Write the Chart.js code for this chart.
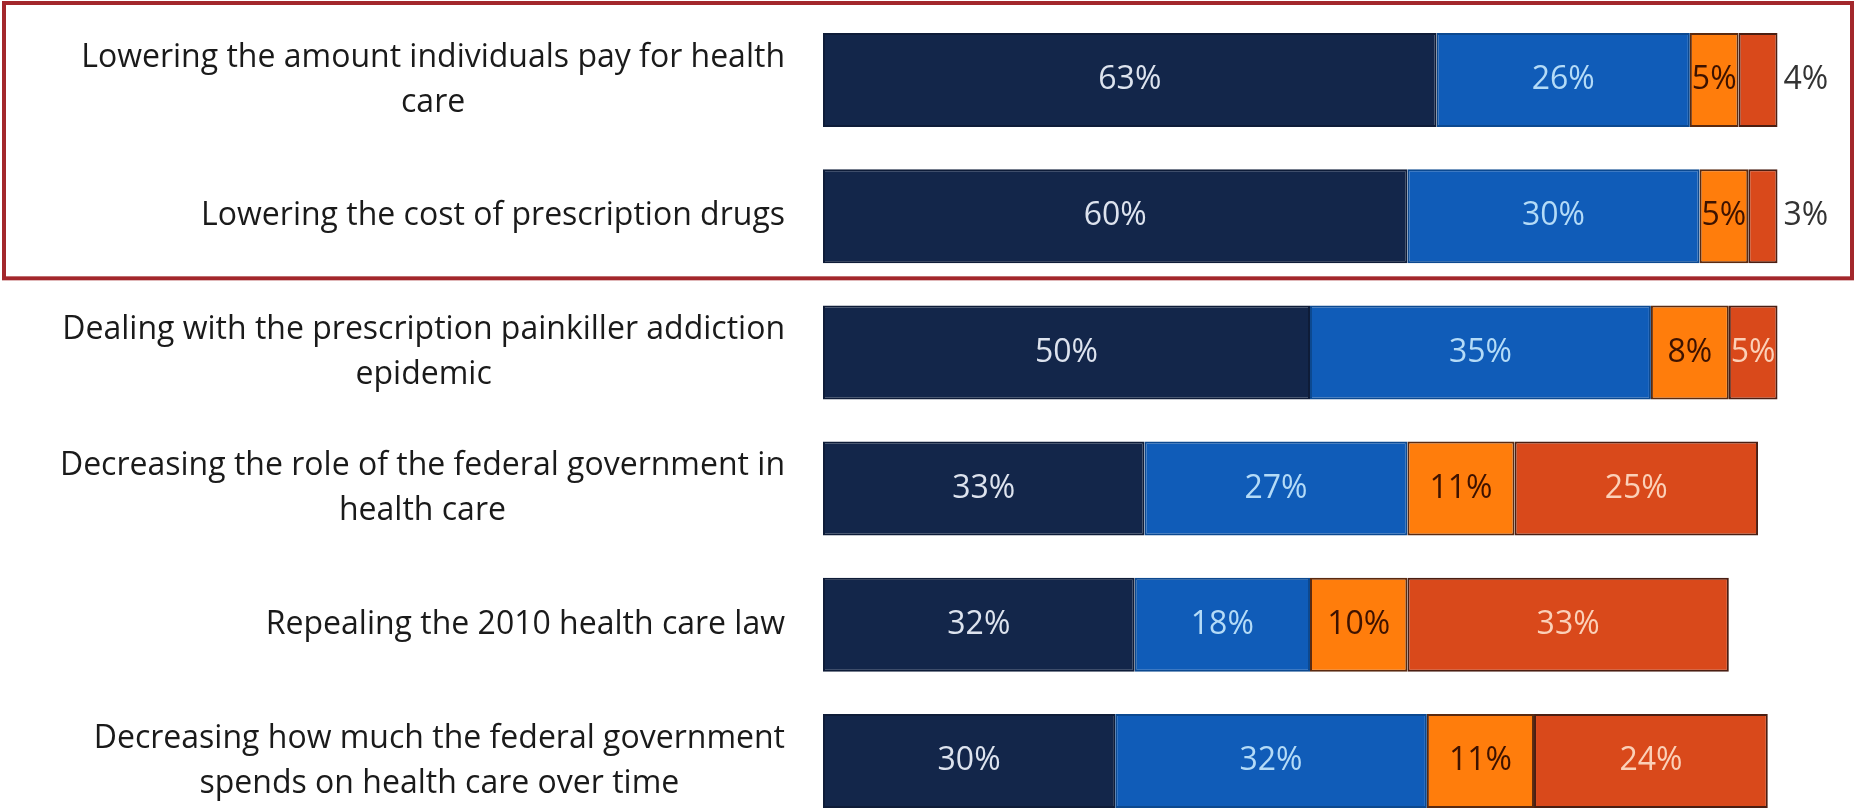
<!DOCTYPE html>
<html>
<head>
<meta charset="utf-8">
<script src="https://cdn.jsdelivr.net/npm/chart.js@4/dist/chart.umd.min.js"></script>
<style>
  html, body { margin: 0; padding: 0; background: #fff; overflow: hidden; }
  #wrap { width: 1856px; height: 830px; position: relative; }
</style>
</head>
<body>
<div id="wrap"><canvas id="prioridades"></canvas></div>
<script>
// categorias (cada una puede ir en varias lineas)
const categorias = [
  ["Lowering the amount individuals pay for health", "care"],
  ["Lowering the cost of prescription drugs"],
  ["Dealing with the prescription painkiller addiction", "epidemic"],
  ["Decreasing the role of the federal government in", "health care"],
  ["Repealing the 2010 health care law"],
  ["Decreasing how much the federal government", "spends on health care over time"]
];

// porcentajes por serie
const serieA = [63, 60, 50, 33, 32, 30];
const serieB = [26, 30, 35, 27, 18, 32];
const serieC = [5, 5, 8, 11, 10, 11];
const serieD = [4, 3, 5, 25, 33, 24];

const colores = ["#13264a", "#105cb8", "#ff7d0c", "#d9491b"];
const bordes = ["#0e1c38", "#0c4990", "#5a2a10", "#4a1e12"];
const colorTexto = ["#dde3ee", "#b4dbf7", "#3d1200", "#fbd0b8"];

const FUENTE = "'Open Sans', Lato, sans-serif";

// etiquetas de categoria: bloque alineado a la derecha, lineas centradas entre si
const etiquetasCategoria = {
  id: "etiquetasCategoria",
  afterDraw(chart) {
    const ctx = chart.ctx;
    const y = chart.scales.y;
    const derecha = chart.chartArea.left - 38;
    const alto = 45;
    ctx.save();
    ctx.font = "32px " + FUENTE;
    ctx.fillStyle = "#1a1a1a";
    ctx.textAlign = "center";
    ctx.textBaseline = "middle";
    categorias.forEach((lineas, i) => {
      const ancho = Math.max(...lineas.map(l => ctx.measureText(l).width));
      const cx = derecha - ancho / 2;
      const cy = y.getPixelForValue(i);
      lineas.forEach((l, j) => {
        ctx.fillText(l, cx, cy + (j - (lineas.length - 1) / 2) * alto);
      });
    });
    ctx.restore();
  }
};

// porcentajes dentro de cada segmento (o a la derecha si es muy chico)
const etiquetasValor = {
  id: "etiquetasValor",
  afterDatasetsDraw(chart) {
    const ctx = chart.ctx;
    ctx.save();
    ctx.font = "32px " + FUENTE;
    ctx.textBaseline = "middle";
    chart.data.datasets.forEach((ds, di) => {
      chart.getDatasetMeta(di).data.forEach((bar, i) => {
        const v = ds.data[i];
        if (v <= 4) {
          ctx.fillStyle = "#333";
          ctx.textAlign = "left";
          ctx.fillText(v + "%", bar.x + 6, bar.y);
        } else {
          ctx.fillStyle = colorTexto[di];
          ctx.textAlign = "center";
          ctx.fillText(v + "%", (bar.x + bar.base) / 2, bar.y);
        }
      });
    });
    ctx.restore();
  }
};

// recuadro rojo sobre las dos primeras filas
const recuadro = {
  id: "recuadro",
  afterDraw(chart) {
    const ctx = chart.ctx;
    const y = chart.scales.y;
    const abajo = (y.getPixelForValue(1) + y.getPixelForValue(2)) / 2 - 6;
    ctx.save();
    ctx.strokeStyle = "#a3272c";
    ctx.lineWidth = 4;
    ctx.strokeRect(4, 3, chart.width - 8, abajo - 3);
    ctx.restore();
  }
};

const series = [serieA, serieB, serieC, serieD];

new Chart(document.getElementById("prioridades"), {
  type: "bar",
  data: {
    labels: categorias.map(c => c.join(" ")),
    datasets: series.map((s, k) => ({
      data: s,
      backgroundColor: colores[k],
      borderColor: bordes[k],
      borderWidth: 2,
      borderSkipped: false,
      barPercentage: 0.69,
      categoryPercentage: 1
    }))
  },
  options: {
    indexAxis: "y",
    responsive: true,
    maintainAspectRatio: false,
    animation: false,
    layout: { padding: { left: 823, right: 59, top: 12, bottom: 1 } },
    plugins: { legend: { display: false }, tooltip: { enabled: false } },
    scales: {
      x: { stacked: true, min: 0, max: 100, display: false },
      y: { stacked: true, display: false }
    }
  },
  plugins: [etiquetasCategoria, etiquetasValor, recuadro]
});
</script>
</body>
</html>
